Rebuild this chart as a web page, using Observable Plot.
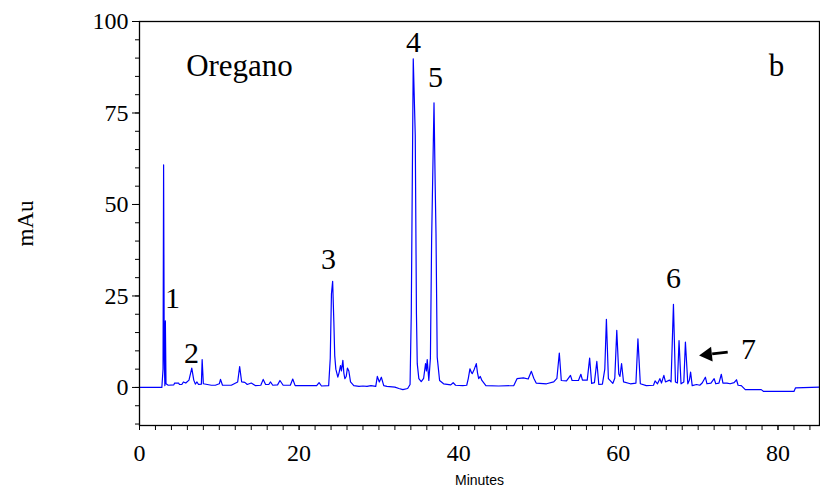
<!DOCTYPE html>
<html>
<head>
<meta charset="utf-8">
<script src="https://cdn.jsdelivr.net/npm/d3@7"></script>
<script src="https://cdn.jsdelivr.net/npm/@observablehq/plot@0.6"></script>
<style>
  html, body { margin: 0; padding: 0; background: #fff; }
  #chart svg { display: block; }
</style>
</head>
<body>
<div id="chart"></div>
<script>
// Retention time (minutes) and absorbance (mAu)
const times = [
  0, 2.80, 2.95, 3.02, 3.10, 3.18, 3.24, 3.32, 3.6, 4.3, 4.4, 4.9, 5.0, 5.3, 5.5, 5.8, 6.2, 6.55, 6.8, 7.0,
  7.2, 7.4, 7.75, 7.85, 8.0, 8.5, 9.0, 9.5, 10.0, 10.15, 10.4, 11.5, 12.3, 12.55, 12.8, 13.2, 13.5, 14.0, 14.5, 15.2,
  15.5, 15.8, 16.2, 16.4, 16.7, 17.3, 17.6, 18.0, 18.9, 19.2, 19.5, 22.2, 22.5, 22.8, 23.7, 23.9, 24.05, 24.2, 24.35, 24.46,
  24.6, 24.85, 25.0, 25.19, 25.3, 25.48, 25.6, 25.73, 25.9, 26.05, 26.23, 26.44, 26.85, 27.5, 28.0, 28.5, 29.0, 29.6, 29.8, 30.05,
  30.3, 30.6, 31.0, 32.0, 32.5, 33.0, 33.6, 33.9, 34.05, 34.3, 34.55, 34.7, 34.8, 35.0, 35.3, 35.6, 35.84, 35.95, 36.05, 36.25,
  36.45, 36.6, 36.9, 37.05, 37.15, 37.3, 37.6, 38.1, 39.0, 39.3, 39.6, 40.5, 41.0, 41.2, 41.4, 41.6, 41.7, 41.95, 42.2, 42.35,
  42.5, 42.7, 42.9, 43.4, 45.0, 46.9, 47.3, 48.1, 48.7, 49.1, 49.4, 49.7, 51.0, 51.9, 52.3, 52.6, 52.85, 53.5, 54.0, 54.2,
  55.0, 55.3, 55.5, 56.1, 56.4, 56.65, 57.0, 57.3, 57.55, 58.0, 58.3, 58.5, 58.75, 59.3, 59.55, 59.8, 60.05, 60.2, 60.4, 60.65,
  61.5, 62.2, 62.45, 62.75, 63.5, 64.4, 64.6, 64.9, 65.2, 65.4, 65.7, 65.9, 66.4, 66.6, 66.9, 67.15, 67.4, 67.6, 67.85, 68.2,
  68.4, 68.7, 68.9, 69.05, 69.25, 69.8, 70.2, 70.5, 70.9, 71.1, 71.6, 72.0, 72.2, 72.6, 72.9, 73.1, 73.6, 74.0, 74.5, 74.8,
  75.0, 75.4, 75.9, 77.9, 78.2, 82.0, 82.2, 85.2
];
const mau = [
  0, 0, 5, 60.8, 8, 0.5, 18.2, 1, 0.6, 0.7, 1.2, 1.2, 0.8, 0.8, 1.5, 1.2, 2, 5.3, 2, 0.9,
  1.5, 0.8, 0.9, 7.6, 1.0, 0.8, 0.6, 0.6, 1.0, 2.2, 0.6, 0.6, 1.5, 5.7, 1.5, 1.4, 0.8, 1.2, 0.5, 0.6,
  2.2, 0.8, 0.8, 1.5, 0.6, 0.7, 1.9, 0.6, 0.6, 2.3, 0.5, 0.5, 1.3, 0.4, 0.5, 8, 25.6, 29.0, 18, 8.7,
  5, 2.8, 4, 6.0, 4.5, 7.4, 4, 2.4, 3, 5.3, 4.5, 1.5, 0.5, 0.3, 0.4, 0.3, 0.5, 0.3, 3.0, 1.5,
  2.8, 0.5, 0.3, 0.1, -0.3, -0.6, -0.3, 0.8, 20, 89.8, 69, 20, 6.5, 2.4, 1.6, 2.5, 6.5, 4.5, 7.6, 1.9,
  8, 40, 77.8, 55, 42, 8.3, 1.9, 1, 0.7, 1.3, 0.6, 0.5, 0.6, 2.5, 5.1, 4.0, 3.8, 5, 6.5, 4,
  2.4, 3, 1.9, 0.5, 0.4, 0.5, 2.4, 2.6, 2.3, 4.4, 2.5, 1.2, 1.0, 1.5, 2.5, 9.4, 1.9, 1.8, 3.3, 1.9,
  1.9, 3.6, 2, 2, 8.0, 1.1, 1.3, 7.1, 0.8, 0.9, 5, 18.6, 2.4, 1.1, 2.5, 15.6, 3.7, 3.0, 6.5, 1.5,
  1.0, 1.2, 13.3, 1.0, 0.5, 0.6, 1.8, 1.0, 2.4, 1.2, 3.3, 1.5, 2, 1.5, 22.7, 1.5, 1.2, 12.8, 1.0, 1.5,
  12.4, 1.0, 2, 4.2, 0.5, 0.8, 0.6, 1.2, 2.8, 1.0, 1.2, 2.4, 1.0, 1.2, 3.6, 1.2, 1.2, 1.0, 1.3, 2.1,
  0.6, 0.5, -0.6, -0.6, -1.1, -1.1, -0.1, 0.1
];

// Tick values
const xTickLabels = [0, 20, 40, 60, 80];
const xMinorTicks = d3.range(0, 85, 2);
const yTickLabels = [0, 25, 50, 75, 100];
const yMinorTicks = d3.range(-10, 101, 5);

// Annotations (data coordinates)
const annText = ["Oregano", "b", "1", "2", "3", "4", "5", "6", "7"];
const annX = [12.53, 79.8, 4.14, 6.52, 23.68, 34.34, 37.09, 66.92, 76.3];
const annY = [85.0, 85.0, 21.6, 6.56, 32.5, 91.6, 82.1, 27.1, 7.9];
const annSize = [31, 31, 30, 30, 30, 30, 30, 30, 30];

// Arrow pointing at peak 7: tail, head base, head centroid
const arrowTail = {x: 73.7, y: 9.64};
const arrowBase = {x: 71.75, y: 9.15};
const arrowHead = {x: 71.18, y: 8.96};

const trace = times.map((t, i) => ({t, v: mau[i]}));
const ann = annText.map((s, i) => ({s, x: annX[i], y: annY[i], size: annSize[i]}));
const serif = "Liberation Serif, Times New Roman, serif";

const chart = Plot.plot({
  width: 820,
  height: 502,
  marginLeft: 139,
  marginRight: 1,
  marginTop: 21,
  marginBottom: 77,
  style: {background: "#fff", color: "#000"},
  x: {domain: [0, 85.2]},
  y: {domain: [-10.4, 100]},
  marks: [
    Plot.axisX(xMinorTicks, {tickSize: 5, tickFormat: () => "", label: null, stroke: "#000"}),
    Plot.axisX(xTickLabels, {tickSize: 5, tickPadding: 13, fontSize: 24, fontFamily: serif, label: null, stroke: "#000", fill: "#000"}),
    Plot.axisY(yMinorTicks, {tickSize: 4, tickFormat: () => "", label: null, stroke: "#000"}),
    Plot.axisY(yTickLabels, {tickSize: 7, tickPadding: 4, fontSize: 24, fontFamily: serif, label: null, stroke: "#000", fill: "#000"}),
    Plot.line(trace, {x: "t", y: "v", stroke: "#0000ff", strokeWidth: 1.2}),
    Plot.frame({stroke: "#000", strokeWidth: 1.3}),
    Plot.text(ann, {x: "x", y: "y", text: "s", fontSize: d => d.size, fontFamily: serif, textAnchor: "middle", lineAnchor: "bottom", fill: "#000"}),
    Plot.link([0], {x1: () => arrowTail.x, y1: () => arrowTail.y, x2: () => arrowBase.x, y2: () => arrowBase.y, stroke: "#000", strokeWidth: 2.7}),
    Plot.dot([arrowHead], {x: "x", y: "y", symbol: "triangle", r: 5.5, rotate: 264, fill: "#000", stroke: "none"}),
    Plot.text(["mAu"], {frameAnchor: "left", dx: -114, rotate: -90, fontSize: 23, fontFamily: serif, lineAnchor: "middle", textAnchor: "middle", fill: "#000"}),
    Plot.text(["Minutes"], {frameAnchor: "bottom", dy: 55, fontSize: 14, fontFamily: "Liberation Sans, Arial, sans-serif", lineAnchor: "middle", textAnchor: "middle", fill: "#000"})
  ]
});
document.getElementById("chart").appendChild(chart);
</script>
</body>
</html>
